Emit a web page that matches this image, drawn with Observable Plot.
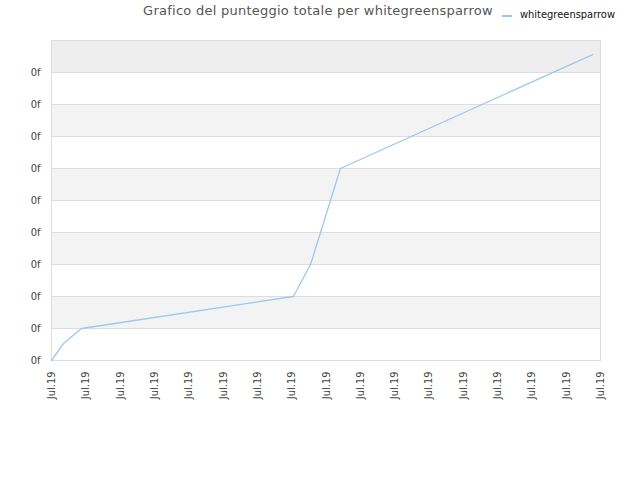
<!DOCTYPE html>
<html>
<head>
<meta charset="utf-8">
<script src="https://cdn.jsdelivr.net/npm/d3@7"></script>
<script src="https://cdn.jsdelivr.net/npm/@observablehq/plot@0.6"></script>
<style>
  body { margin: 0; background: #fff; font-family: "DejaVu Sans", sans-serif; }
  #wrap { position: relative; width: 640px; height: 480px; }
  #title { position: absolute; left: 0; top: 3px; width: 636px; text-align: center; font-size: 13px; color: #555; letter-spacing: 0.25px; font-family: "DejaVu Sans", sans-serif; }
  #legend { position: absolute; left: 502px; top: 8px; font-size: 11px; color: #111; font-family: "DejaVu Sans Condensed", "DejaVu Sans", sans-serif; display: flex; align-items: center; }
  #legend .sw { display: inline-block; width: 10px; height: 2px; background: #99c8f5; margin-right: 8px; margin-top: 3px; }
  #chart { position: absolute; left: 0; top: 0; }
</style>
</head>
<body>
<div id="wrap">
  <div id="chart"></div>
  <div id="title">Grafico del punteggio totale per whitegreensparrow</div>
  <div id="legend"><span class="sw"></span>whitegreensparrow</div>
</div>
<script>
const seriesName = "whitegreensparrow";
const xValues = [0, 0.35, 0.875, 7.05, 7.55, 8.42, 15.77];
const yValues = [0, 0.53, 1, 2, 3, 6, 9.56];
const xTicks = d3.range(0, 17);
const xTickLabels = xTicks.map(() => "Jul.19");
const yTicks = d3.range(0, 10);
const yTickLabels = yTicks.map(() => "0f");
const bandStarts = [1, 3, 5, 7];
const topBand = [9];

const data = xValues.map((x, i) => ({x, y: yValues[i]}));

const plot = Plot.plot({
  width: 640,
  height: 480,
  marginLeft: 51,
  marginRight: 40,
  marginTop: 40,
  marginBottom: 120,
  style: { fontFamily: "DejaVu Sans Condensed, DejaVu Sans, sans-serif", fontSize: "11px", color: "#444", background: "#fff" },
  x: { domain: [0, 16], ticks: xTicks, tickFormat: (d, i) => xTickLabels[i], tickRotate: -90, tickSize: 0, tickPadding: 11, label: null },
  y: { domain: [0, 10], ticks: yTicks, tickFormat: (d, i) => yTickLabels[i], tickSize: 0, tickPadding: 11, label: null },
  marks: [
    Plot.rectY(bandStarts, { x1: 0, x2: 16, y1: d => d, y2: d => d + 1, fill: "#f3f3f3" }),
    Plot.rectY(topBand, { x1: 0, x2: 16, y1: d => d, y2: 10, fill: "#eeeeee" }),
    Plot.ruleY(yTicks, { stroke: "#dddddd", strokeWidth: 1 }),
    Plot.frame({ stroke: "#dddddd" }),
    Plot.line(data, { x: "x", y: "y", stroke: "#99c8f5", strokeWidth: 1.3 })
  ]
});
document.getElementById("chart").appendChild(plot);
</script>
</body>
</html>
